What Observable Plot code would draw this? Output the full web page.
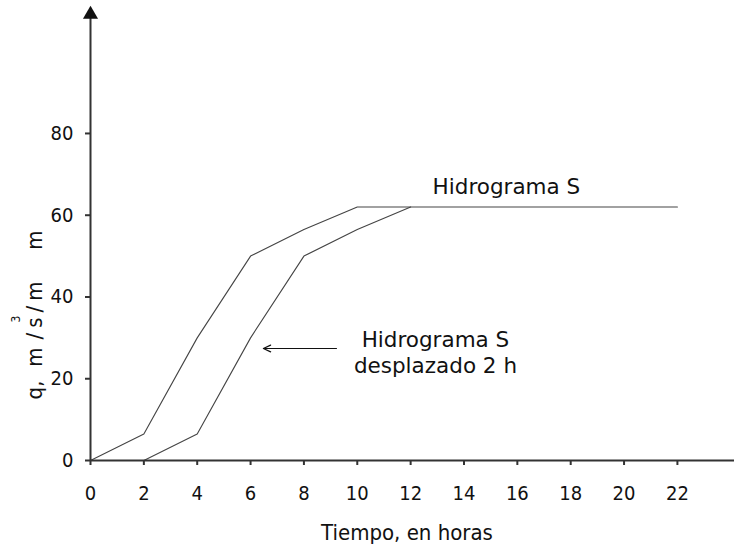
<!DOCTYPE html>
<html><head><meta charset="utf-8">
<script src="https://cdn.jsdelivr.net/npm/d3@7"></script>
<script src="https://cdn.jsdelivr.net/npm/@observablehq/plot@0.6"></script>
<style>body{margin:0;background:#fff}</style>
</head><body><div id="chart"></div>
<script>
// Data
const hours = [0, 2, 4, 6, 8, 10, 22];
const hidrogramaS = [0, 6.5, 30, 50, 56.5, 62, 62];
const hoursShifted = [2, 4, 6, 8, 10, 12];
const hidrogramaShifted = [0, 6.5, 30, 50, 56.5, 62];
const xTicks = [0, 2, 4, 6, 8, 10, 12, 14, 16, 18, 20, 22];
const yTicks = [0, 20, 40, 60, 80];
const xMax = 24.14;
const yMax = 109.1;

// annotations
const labelS = {x: 15.59, y: 65.3, text: "Hidrograma S"};
const labelShift = {x: 12.93, y: 21.5, text: "Hidrograma S\ndesplazado 2 h"};
const arrowShift = {x1: 9.22, x2: 6.48, y: 27.4};

const seriesS = hours.map((h, i) => ({h, q: hidrogramaS[i]}));
const seriesShift = hoursShifted.map((h, i) => ({h, q: hidrogramaShifted[i]}));

const axisColor = "#333";
const condensed = "'DejaVu Sans Condensed', 'Liberation Sans Narrow', 'Liberation Sans', Arial, sans-serif";
const plot = Plot.plot({
  width: 735,
  height: 548,
  marginLeft: 90,
  marginRight: 1,
  marginTop: 14,
  marginBottom: 88,
  style: {fontFamily: condensed, background: "#fff", color: "#111", overflow: "visible"},
  x: {domain: [0, xMax]},
  y: {domain: [0, yMax]},
  marks: [
    Plot.axisX({ticks: xTicks, tickSize: 5, tickPadding: 20, fontSize: 20, label: null, stroke: axisColor, strokeWidth: 2, tickFormat: d => d}),
    Plot.axisY({ticks: yTicks, tickSize: 5, tickPadding: 12, fontSize: 20, label: null, stroke: axisColor, strokeWidth: 2, tickFormat: d => d}),
    Plot.line(seriesS, {x: "h", y: "q", stroke: "#444", strokeWidth: 1.1}),
    Plot.line(seriesShift, {x: "h", y: "q", stroke: "#444", strokeWidth: 1.1}),
    Plot.ruleY([0], {stroke: axisColor, strokeWidth: 2}),
    Plot.ruleX([0], {stroke: axisColor, strokeWidth: 2}),
    Plot.dot([{h: 0, q: yMax}], {x: "h", y: "q", symbol: "triangle", r: 5.6, fill: "#111", stroke: "none"}),
    Plot.text([labelS], {x: "x", y: "y", text: "text", lineAnchor: "bottom", fontSize: 21.5, fontFamily: "'DejaVu Sans', Verdana, sans-serif", fill: "#111"}),
    Plot.text([labelShift], {x: "x", y: "y", text: "text", lineAnchor: "bottom", lineHeight: 1.17, fontSize: 21.5, fontFamily: "'DejaVu Sans', Verdana, sans-serif", fill: "#111"}),
    Plot.arrow([arrowShift], {x1: "x1", x2: "x2", y1: "y", y2: "y", stroke: "#111", strokeWidth: 1.2, headLength: 10, headAngle: 50})
  ]
});

const svg = d3.select(plot);
// x-axis title
svg.append("text")
  .attr("x", 407).attr("y", 540)
  .attr("text-anchor", "middle")
  .attr("font-size", 22)
  .attr("fill", "#111")
  .text("Tiempo, en horas");
// y-axis title with superscript
const yl = svg.append("text")
  .attr("transform", "translate(42,390) rotate(-90)")
  .attr("font-size", 22)
  .attr("fill", "#111");
yl.append("tspan").attr("x", 0).attr("y", 0).text("q,");
yl.append("tspan").attr("x", 33).attr("y", 0).text("m");
yl.append("tspan").attr("x", 71).attr("y", -22).attr("font-size", 12).text("3");
yl.append("tspan").attr("x", 82).attr("y", 0).attr("letter-spacing", 5).text("/s/m");
yl.append("tspan").attr("x", 150).attr("y", 0).text("m");

document.getElementById("chart").appendChild(plot);
</script>
</body></html>
